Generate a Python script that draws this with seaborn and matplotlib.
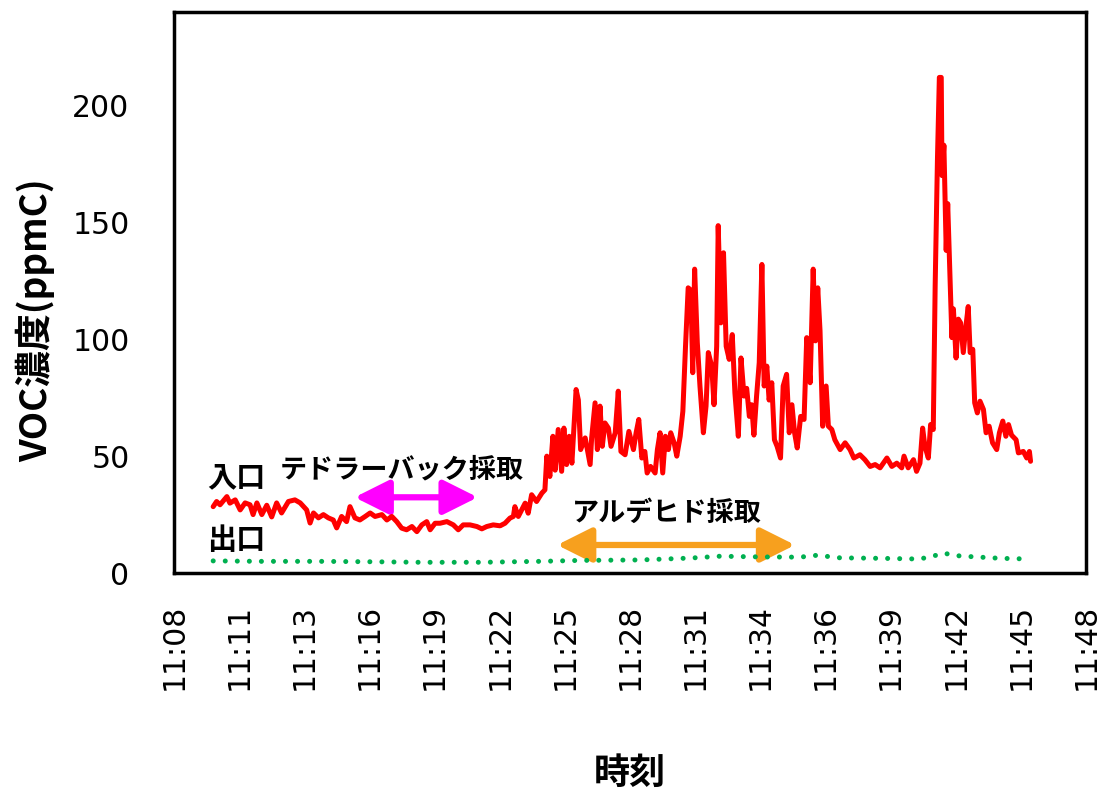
import numpy as np
import pandas as pd
import seaborn as sns
import matplotlib.pyplot as plt
from matplotlib.patches import FancyArrowPatch

# inlet (入口) readings: seconds after 11:08:00 and ppmC
inlet_sec = [103, 112, 121, 139, 147, 161, 174, 187, 200, 208, 218, 231, 244, 257, 270, 283,
             301, 318, 332, 349, 358, 367, 380, 393, 406, 419, 428, 441, 454, 463, 476, 489,
             503, 516, 529, 547, 560, 573, 586, 599, 612, 626, 639, 652, 665, 674, 687, 700,
             718, 735, 748, 761, 779, 797, 810, 823, 840, 858, 871, 884, 893, 897, 906, 915,
             924, 932, 941, 954, 968, 976, 981, 989, 997, 1003, 1011, 1020, 1026, 1033, 1040,
             1047, 1058, 1064, 1070, 1082, 1095, 1099, 1108, 1114, 1121, 1127, 1134, 1143,
             1150, 1161, 1169, 1176, 1187, 1197, 1209, 1216, 1223, 1231, 1239, 1245, 1254,
             1266, 1272, 1279, 1286, 1293, 1301, 1307, 1316, 1323, 1332, 1339, 1346, 1353,
             1360, 1365, 1370, 1377, 1384, 1393, 1400, 1406, 1415, 1421, 1428, 1432, 1439,
             1446, 1453, 1461, 1469, 1476, 1485, 1492, 1500, 1507, 1514, 1520, 1526, 1533,
             1540, 1547, 1553, 1560, 1566, 1573, 1580, 1587, 1596, 1603, 1612, 1619, 1626,
             1633, 1640, 1649, 1658, 1665, 1674, 1682, 1688, 1694, 1700, 1707, 1716, 1722,
             1731, 1739, 1753, 1766, 1779, 1789, 1805, 1818, 1832, 1845, 1858, 1876, 1889,
             1902, 1915, 1921, 1932, 1946, 1954, 1963, 1970, 1976, 1985, 1991, 1998, 2003,
             2009, 2014, 2019, 2021, 2026, 2032, 2036, 2042, 2047, 2051, 2058, 2064, 2070,
             2077, 2084, 2090, 2095, 2102, 2107, 2114, 2121, 2130, 2137, 2145, 2154, 2165,
             2172, 2181, 2189, 2196, 2204, 2216, 2222, 2235, 2244, 2251, 2254]
inlet_ppm = [28.4, 30.6, 29.2, 32.7, 29.9, 31.3, 27, 30, 29.2, 25, 30, 25, 29, 24, 30, 25.7,
             30.6, 31.3, 30, 27, 21.4, 25.7, 23.6, 25, 23.6, 22.7, 19.3, 24.2, 22, 28.4, 23.6, 22.7,
             24.2, 25.7, 24.2, 25, 22.7, 24.2, 22, 19.2, 18.5, 19.9, 17.7, 20.6, 22, 18.5, 21.3, 21.3,
             22, 20.6, 18.5, 20.6, 20.6, 19.9, 18.9, 19.9, 20.6, 20.2, 21.3, 23.5, 24.2, 28.4, 24.2, 27,
             29.9, 25.6, 33.5, 30.6, 34.2, 35.6, 50, 41.3, 58.5, 44, 61.4, 43.5, 62, 46.4, 58.5,
             47, 78.5, 74, 52.8, 57.8, 46.4, 57.8, 72.8, 52.8, 71.4, 54.2, 64.2, 62,
             54.2, 60, 77.8, 52, 50.6, 60.6, 52.8, 60, 65.7, 49.2, 52, 42.8, 45.6,
             42.8, 52.8, 60, 42.8, 58.5, 52.8, 60, 55.7, 50, 58.5, 69.2, 97, 122,
             121, 85.7, 130, 98.6, 80, 60, 71.4, 94.3, 88.5, 72, 97, 148.6, 107,
             137, 97, 91.4, 102, 77, 58.5, 92, 75.7, 79, 67, 72, 59, 75.7,
             90, 132, 80, 88.5, 74, 81.4, 57, 54.2, 49.2, 80, 85, 60, 72,
             60, 53.5, 67, 65.7, 100.7, 81.4, 130, 99.3, 122, 103.6, 62.8, 80, 62.8,
             61.4, 57, 52.8, 55.7, 52.8, 49.2, 50.6, 48.5, 45.6, 46.4, 45, 49.2, 45.6,
             47, 45, 50, 45, 48.5, 43.5, 47, 62, 54.2, 49.2, 63.5, 61.4, 123,
             177, 212, 212, 170, 183, 138, 158, 127, 100.7, 113, 92, 108.6, 107,
             94.3, 105.7, 114, 94.3, 95.7, 72.8, 68.5, 73.5, 70, 60, 62.8, 55.7, 52.8,
             60, 65, 58.5, 63.5, 59, 57, 51.4, 52, 49.2, 52, 47.8]

# outlet (出口) readings
outlet_sec = [103, 226, 384, 542, 647, 805, 963, 1068, 1226, 1358, 1437, 1542, 1647,
              1692, 1753, 1858, 1963, 2003, 2024, 2068, 2174, 2253]
outlet_ppm = [5.2, 5.0, 5.0, 4.8, 4.6, 4.6, 5.0, 5.4, 5.6, 6.4, 7.2, 6.9, 6.8,
              7.6, 6.5, 6.3, 6.0, 7.5, 8.5, 7.3, 6.3, 6.0]

time_labels = ["11:08", "11:11", "11:13", "11:16", "11:19", "11:22", "11:25", "11:28",
               "11:31", "11:34", "11:36", "11:39", "11:42", "11:45", "11:48"]
y_ticks = [0, 50, 100, 150, 200]

inlet = pd.DataFrame({"min": np.array(inlet_sec) / 60, "ppm": inlet_ppm})
outlet = pd.DataFrame({"min": np.array(outlet_sec) / 60, "ppm": outlet_ppm})

sns.set_style("white")
plt.rcParams['font.family'] = ['DejaVu Sans']
plt.rcParams['text.color'] = 'black'
plt.rcParams['axes.labelcolor'] = 'black'
plt.rcParams['xtick.color'] = 'black'
plt.rcParams['ytick.color'] = 'black'
jp = ['Noto Sans CJK JP', 'DejaVu Sans']

fig = plt.figure(figsize=(11.1, 7.97), dpi=100)
ax = fig.add_axes([0.1568, 0.281, 0.8216, 0.704])

sns.lineplot(data=inlet, x="min", y="ppm", ax=ax, color="#FF0000", lw=3.6, estimator=None)
sns.lineplot(data=outlet, x="min", y="ppm", ax=ax, color="#00B050", lw=3.6,
             estimator=None, linestyle=(0, (0.01, 2.4)), dash_capstyle="round")

ax.set_xlim(0, 40)
ax.set_ylim(0, 240)
ax.set_xticks(np.linspace(0, 40, len(time_labels)))
ax.set_xticklabels(time_labels, rotation=90, fontsize=21.5)
ax.set_yticks(y_ticks)
ax.set_yticklabels([str(v) for v in y_ticks], fontsize=21.5)
ax.tick_params(axis="x", length=0, pad=22)
ax.tick_params(axis="y", length=0, pad=32)

for s in ax.spines.values():
    s.set_color("black")
    s.set_linewidth(2.5)

ax.set_xlabel("時刻", family=jp, fontsize=26, fontweight="bold")
ax.set_ylabel("VOC濃度(ppmC)", family=jp, fontsize=26.5, fontweight="bold")
ax.xaxis.set_label_coords(0.5, -0.325)
ax.yaxis.set_label_coords(-0.13, 0.451)

# labels and sampling periods
ax.text(0.036, 0.171, "入口", transform=ax.transAxes, family=jp, fontsize=21,
        fontweight="bold", va="center")
ax.text(0.036, 0.059, "出口", transform=ax.transAxes, family=jp, fontsize=21,
        fontweight="bold", va="center")
ax.text(0.116, 0.184, "テドラーバック採取", transform=ax.transAxes, family=jp,
        fontsize=19.5, fontweight="bold", va="center")
ax.text(0.436, 0.107, "アルデヒド採取", transform=ax.transAxes, family=jp,
        fontsize=19.5, fontweight="bold", va="center")

for x0, x1, y, c in [(0.198, 0.333, 0.135, "#FF00FF"), (0.42, 0.681, 0.05, "#F7A01E")]:
    arr = FancyArrowPatch((x0, y), (x1, y), transform=ax.transAxes,
                          arrowstyle="<|-|>,head_length=1.5,head_width=0.75",
                          mutation_scale=14, lw=4.5, color=c, shrinkA=0, shrinkB=0)
    ax.add_patch(arr)

fig.savefig("out.png", dpi=100)
